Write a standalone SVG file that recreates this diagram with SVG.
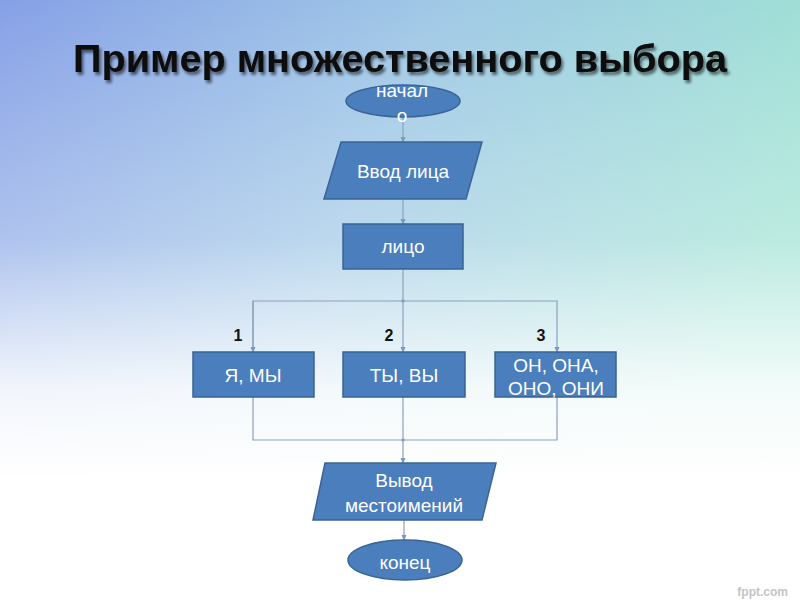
<svg xmlns="http://www.w3.org/2000/svg" width="800" height="600" viewBox="0 0 800 600">
<defs>
  <linearGradient id="bgH" x1="0" y1="0" x2="1" y2="0.3">
    <stop offset="0" stop-color="#86A0E6"/>
    <stop offset="0.5" stop-color="#A0C8E6"/>
    <stop offset="1" stop-color="#9FE2D4"/>
  </linearGradient>
  <linearGradient id="bgV" x1="0" y1="0" x2="0" y2="1">
    <stop offset="0" stop-color="#FFFFFF" stop-opacity="0"/>
    <stop offset="0.4" stop-color="#FFFFFF" stop-opacity="0.3"/>
    <stop offset="0.65" stop-color="#FFFFFF" stop-opacity="0.88"/>
    <stop offset="0.8" stop-color="#FFFFFF" stop-opacity="1"/>
    <stop offset="1" stop-color="#FFFFFF" stop-opacity="1"/>
  </linearGradient>
  <filter id="shadow" x="-5%" y="-20%" width="110%" height="150%">
    <feGaussianBlur in="SourceAlpha" stdDeviation="1.5"/>
    <feOffset dx="2" dy="3" result="b"/>
    <feComponentTransfer><feFuncA type="linear" slope="0.55"/></feComponentTransfer>
    <feMerge><feMergeNode/><feMergeNode in="SourceGraphic"/></feMerge>
  </filter>
  <marker id="arr" viewBox="0 0 6 6" refX="5" refY="3" markerWidth="5" markerHeight="5" orient="auto">
    <path d="M0,0.5 L6,3 L0,5.5 z" fill="#7F98B8"/>
  </marker>
</defs>
<style>
  .shape { fill: #4A7EBC; stroke: #3A6494; stroke-width: 1.5; }
  .lbl { font-family: "Liberation Sans", Arial, sans-serif; font-size: 19px; fill: #FFFFFF; text-anchor: middle; }
  .num { font-family: "Liberation Sans", Arial, sans-serif; font-size: 16px; font-weight: bold; fill: #111111; text-anchor: middle; }
  .conn { fill: none; stroke: #8AA2C0; stroke-width: 1.2; }
</style>

<rect x="0" y="0" width="800" height="600" fill="url(#bgH)"/>
<rect x="0" y="0" width="800" height="600" fill="url(#bgV)"/>

<text x="400" y="72" font-family="Liberation Sans, Arial, sans-serif" font-size="39" font-weight="bold" fill="#0A0A0A" text-anchor="middle" textLength="654" lengthAdjust="spacingAndGlyphs" filter="url(#shadow)">Пример множественного выбора</text>

<g id="connectors">
  <line class="conn" x1="403" y1="117" x2="403" y2="142" marker-end="url(#arr)"/>
  <line class="conn" x1="403" y1="199" x2="403" y2="224" marker-end="url(#arr)"/>
  <line class="conn" x1="403" y1="269" x2="403" y2="301"/>
  <polyline class="conn" points="253,352 253,301 557,301 557,352" marker-end="url(#arr)"/>
  <line class="conn" x1="253" y1="301" x2="253" y2="352" marker-end="url(#arr)"/>
  <line class="conn" x1="403" y1="301" x2="403" y2="352" marker-end="url(#arr)"/>
  <polyline class="conn" points="253,397 253,440 557,440 557,397"/>
  <line class="conn" x1="403" y1="397" x2="403" y2="440"/>
  <line class="conn" x1="403" y1="440" x2="403" y2="463" marker-end="url(#arr)"/>
  <line class="conn" x1="404" y1="520" x2="404" y2="540" marker-end="url(#arr)"/>
  <circle cx="403" cy="301" r="1.8" fill="#8AA2C0"/>
  <circle cx="403" cy="440" r="1.8" fill="#8AA2C0"/>
</g>

<g id="start">
  <ellipse class="shape" cx="403" cy="101" rx="57" ry="16"/>
  <text class="lbl" x="402" y="97" font-size="18">начал</text>
  <text class="lbl" x="402" y="122" font-size="18">о</text>
</g>

<g id="input">
  <polygon class="shape" points="341,142 482,142 466,199 324,199"/>
  <text class="lbl" x="403" y="178">Ввод лица</text>
</g>

<g id="person">
  <rect class="shape" x="343" y="224" width="120" height="45"/>
  <text class="lbl" x="403" y="253">лицо</text>
</g>

<g id="labels">
  <text class="num" x="238" y="341">1</text>
  <text class="num" x="389" y="341">2</text>
  <text class="num" x="541" y="341">3</text>
</g>

<g id="case1">
  <rect class="shape" x="193" y="352" width="121" height="45"/>
  <text class="lbl" x="253" y="382">Я, МЫ</text>
</g>

<g id="case2">
  <rect class="shape" x="343" y="352" width="122" height="45"/>
  <text class="lbl" x="404" y="382">ТЫ, ВЫ</text>
</g>

<g id="case3">
  <rect class="shape" x="495" y="352" width="121" height="45"/>
  <text class="lbl" x="556" y="372">ОН, ОНА,</text>
  <text class="lbl" x="556" y="395">ОНО, ОНИ</text>
</g>

<g id="output">
  <polygon class="shape" points="325,463 496,463 482,520 313,520"/>
  <text class="lbl" x="404" y="487">Вывод</text>
  <text class="lbl" x="404" y="512">местоимений</text>
</g>

<g id="end">
  <ellipse class="shape" cx="405" cy="560" rx="57" ry="20"/>
  <text class="lbl" x="405" y="569">конец</text>
</g>

<text x="788" y="596" font-family="Liberation Sans, Arial, sans-serif" font-size="12" font-weight="bold" fill="#C4C4C4" text-anchor="end">fppt.com</text>
</svg>
